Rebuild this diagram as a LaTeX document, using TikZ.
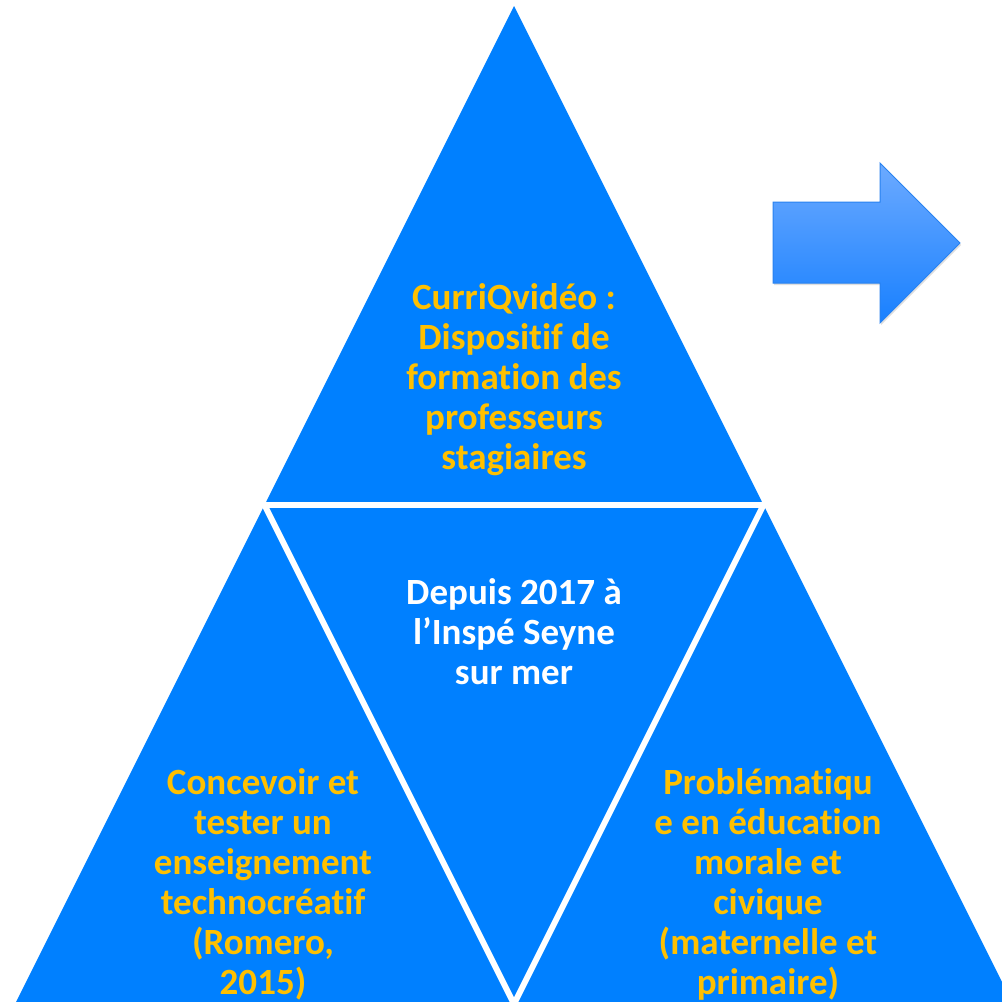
\documentclass[tikz,border=0pt]{standalone}
\usepackage{fontspec}
\setmainfont{Carlito}[Ligatures={TeX,NoCommon}]
\usetikzlibrary{shadows,calc}
\definecolor{pyrblue}{RGB}{0,128,255}
\definecolor{pyrtext}{RGB}{255,192,0}
\definecolor{arrtop}{RGB}{108,170,255}
\definecolor{arrbot}{RGB}{24,128,255}
\definecolor{arredge}{RGB}{40,130,240}
\tikzset{
  gap/.style={draw=white,line width=6pt,line cap=butt},
  label/.style={align=center,font=\bfseries\fontsize{37}{40}\selectfont,inner sep=0pt},
  goldtext/.style={label,text=pyrtext},
  whitetext/.style={label,text=white},
}
\begin{document}
\begin{tikzpicture}[x=1pt,y=-1pt]
\useasboundingbox (0,0) rectangle (1002,1002);
\fill[white] (0,0) rectangle (1002,1002);
% pyramid
\coordinate (apex) at (514,6);
\coordinate (bl) at (15,1004);
\coordinate (br) at (1013,1004);
\coordinate (ml) at (264.5,505);
\coordinate (mr) at (763.5,505);
\coordinate (bm) at (514,1004);
\fill[pyrblue] (apex) -- (bl) -- (br) -- cycle;
\draw[gap] ($(ml)+(-20,0)$) -- ($(mr)+(20,0)$);
\draw[gap] ($(ml)!-0.05!(bm)$) -- ($(ml)!1.05!(bm)$);
\draw[gap] ($(mr)!-0.05!(bm)$) -- ($(mr)!1.05!(bm)$);
% arrow
\path[top color=arrtop,bottom color=arrbot,draw=arredge,line width=1pt,
  drop shadow={opacity=0.25,shadow xshift=1pt,shadow yshift=-2pt}]
  (773,202) -- (880,202) -- (880,163) -- (960,243) -- (880,323) -- (880,283) -- (773,283) -- cycle;
% texts
\node[goldtext] (top) at (514,380) {CurriQvidéo :\\Dispositif de\\formation des\\professeurs\\stagiaires};
\node[whitetext] (mid) at (514,632) {Depuis 2017 à\\l’Inspé Seyne\\sur mer};
\node[goldtext] (left) at (263,884) {Concevoir et\\tester un\\enseignement\\technocréatif\\(Romero,\\2015)};
\node[goldtext] (right) at (768,884) {Problématiqu\\e en éducation\\morale et\\civique\\(maternelle et\\primaire)};
\end{tikzpicture}
\end{document}
